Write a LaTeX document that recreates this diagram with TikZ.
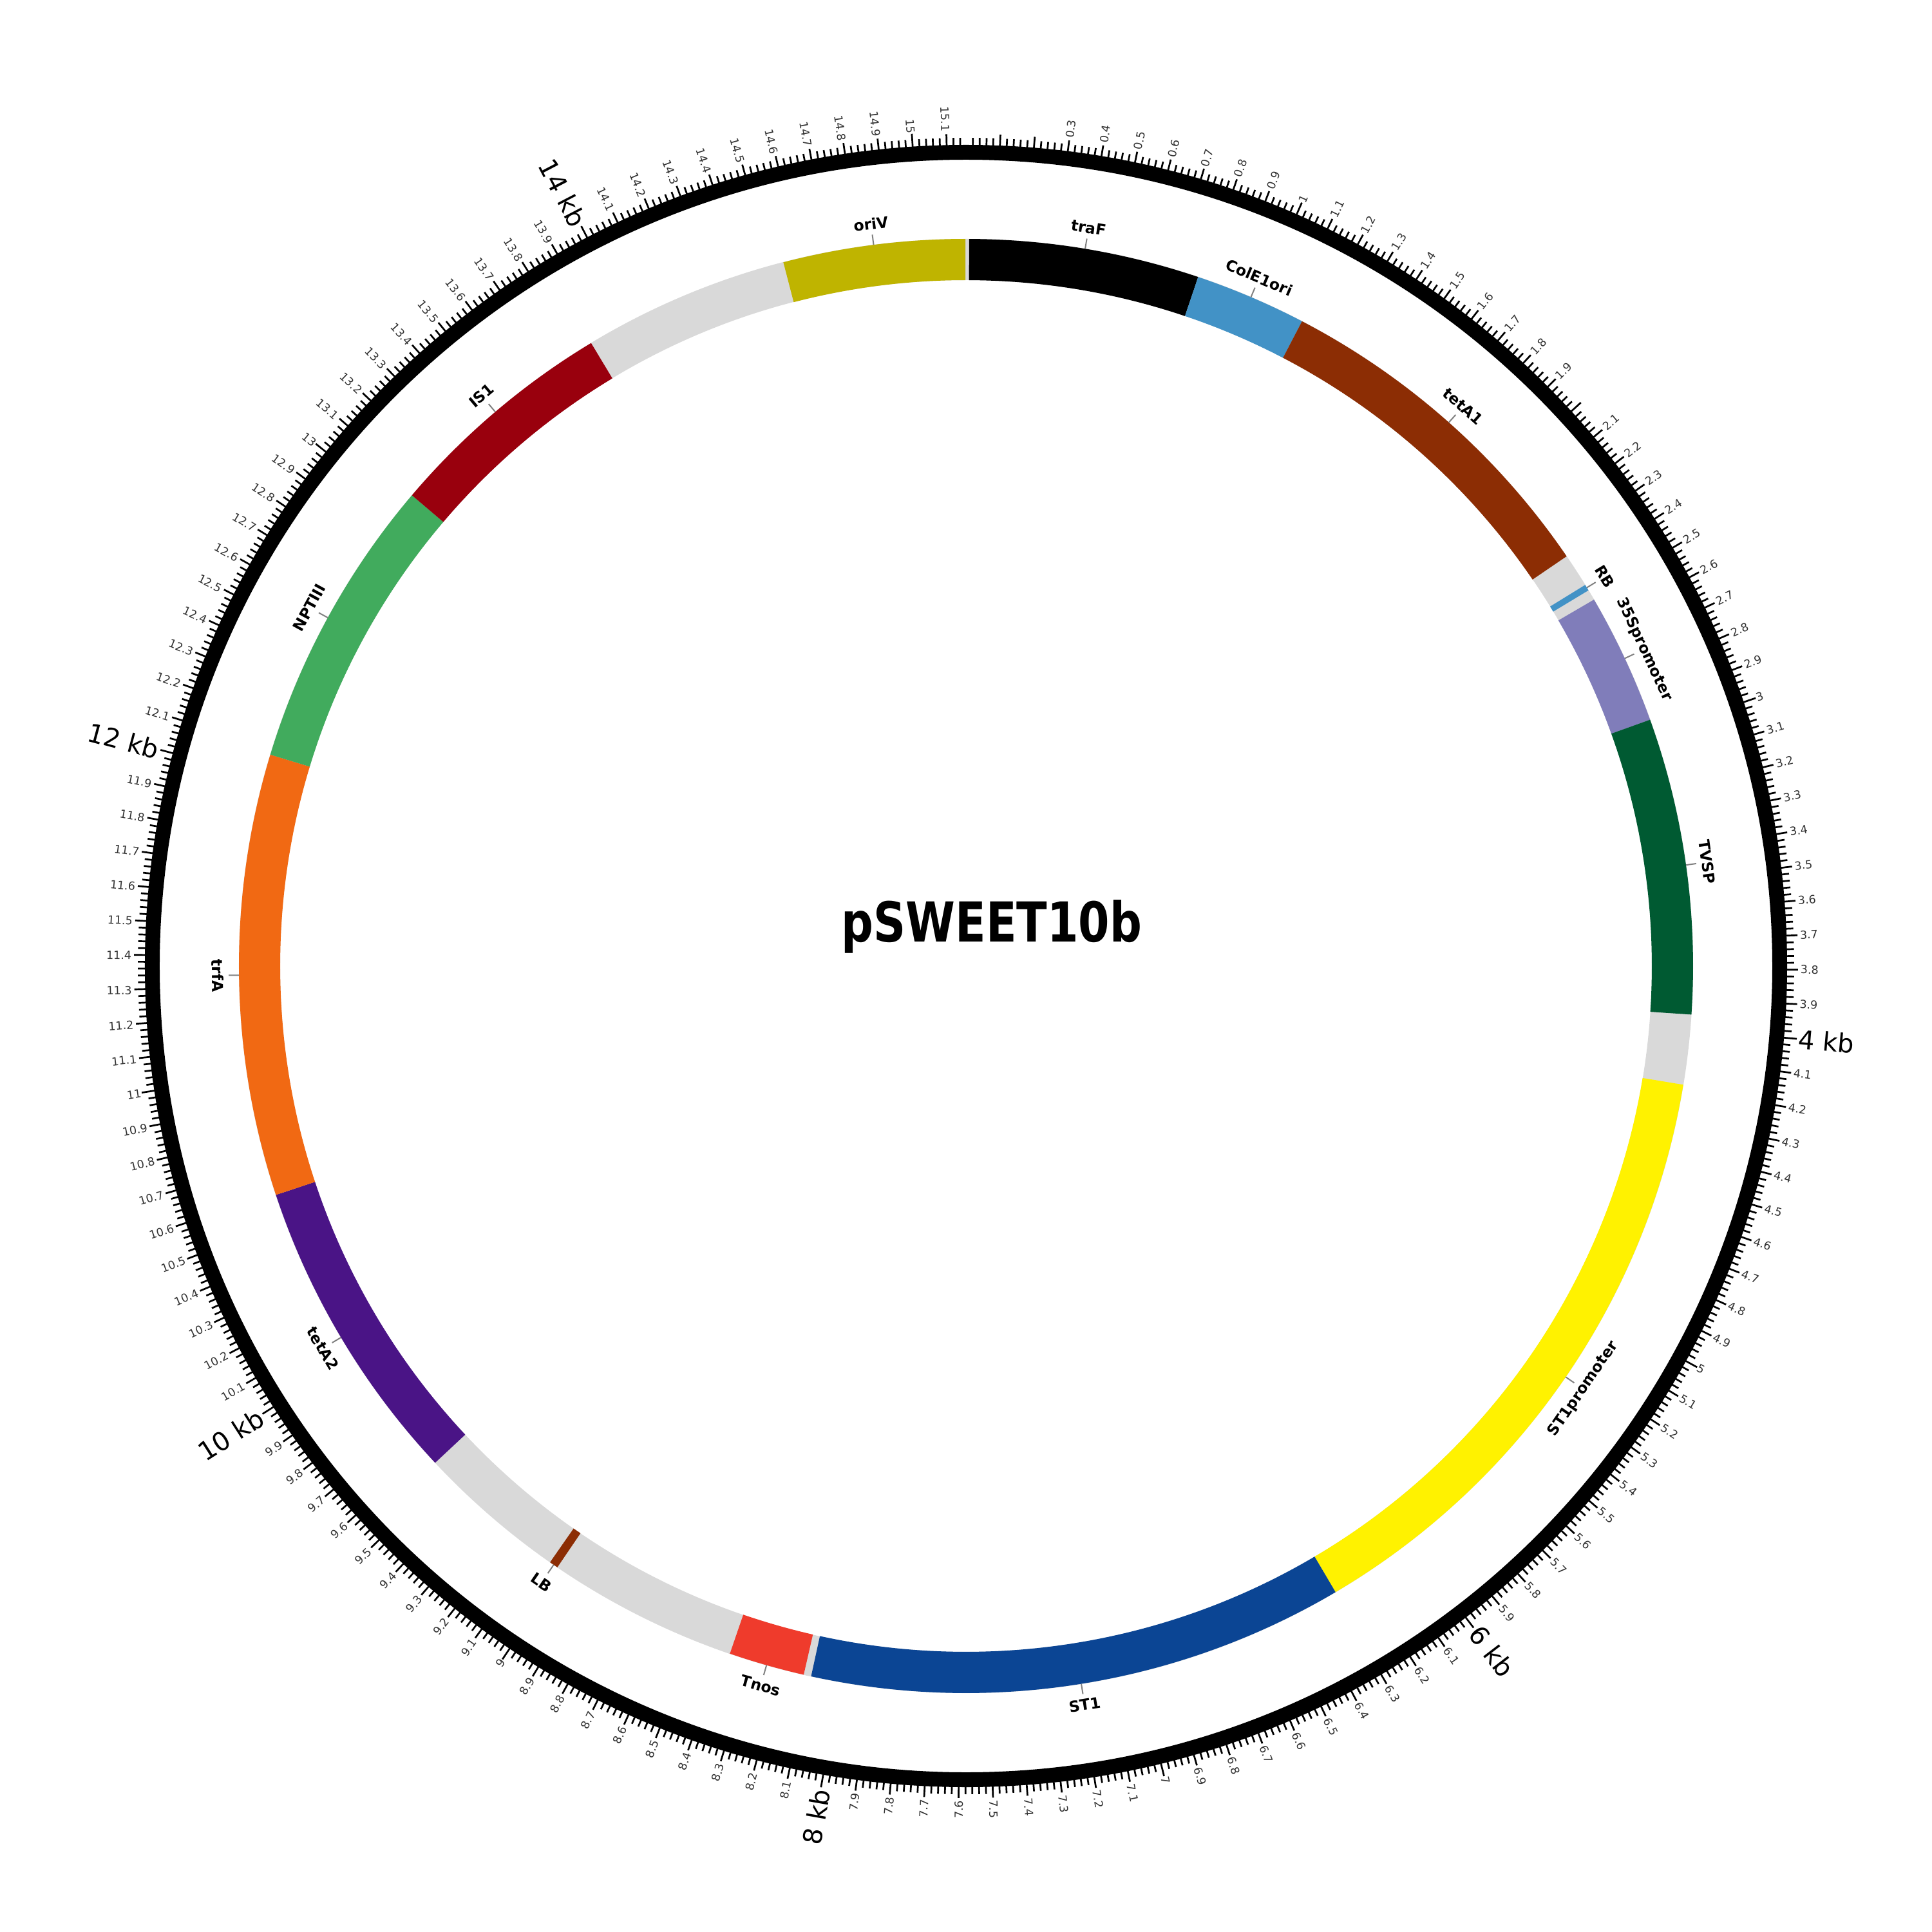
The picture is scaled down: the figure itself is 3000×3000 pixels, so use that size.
\documentclass[tikz,border=0pt]{standalone}
\usepackage{fontspec}
\setmainfont{DejaVu Sans}
\IfFontExistsTF{DejaVu Sans Light}{\newfontfamily\kbfont{DejaVu Sans Light}}{\newfontfamily\kbfont{DejaVu Sans}}
\definecolor{cgap}{HTML}{D9D9D9}
\definecolor{cblue}{HTML}{4292C6}
\definecolor{cbrown}{HTML}{8C2D04}
\definecolor{cpurple}{HTML}{807DBA}
\definecolor{cdgreen}{HTML}{005A32}
\definecolor{cyellow}{HTML}{FFF200}
\definecolor{cnavy}{HTML}{0B4594}
\definecolor{cred}{HTML}{EF3B2C}
\definecolor{cviolet}{HTML}{4A1486}
\definecolor{corange}{HTML}{F16913}
\definecolor{cgreen}{HTML}{41AB5D}
\definecolor{cdred}{HTML}{99000D}
\definecolor{colive}{HTML}{BFB400}
\definecolor{ctext}{HTML}{333333}
\newcommand\plen{15.16}
\tikzset{
  tickl/.style={line width=0.54pt, black},
  ltick/.style={line width=0.4pt, gray},
  flabel/.style={inner sep=0pt, font=\bfseries\fontsize{4.7}{5}\selectfont, text=black},
  tlabel/.style={inner sep=0pt, font=\fontsize{3.5}{4}\selectfont, text=ctext},
  kblabel/.style={inner sep=0pt, font=\kbfont\fontsize{8}{9}\selectfont, text=black},
}
% #1 start (deg clockwise from top), #2 end, #3 colour, #4 name, #5 label
\newcommand\feat[5]{%
  \pgfmathsetmacro\fa{90-#1}%
  \pgfmathsetmacro\fb{90-#2}%
  \fill[#3] (\fa:1129) arc[start angle=\fa,end angle=\fb,radius=1129] -- (\fb:1065) arc[start angle=\fb,end angle=\fa,radius=1065] -- cycle;
  \pgfmathsetmacro\fc{(#1+#2)/2}%
  \pgfmathsetmacro\fm{90-\fc}%
  \pgfmathsetmacro\fr{(\fc>90 && \fc<270) ? 180-\fc : -\fc}%
  \coordinate (#4-e) at (\fm:1129);
  \coordinate (#4-t) at (\fm:1145);
  \node[flabel, rotate=\fr] (#4) at (\fm:1162) {#5};
  \draw[ltick] (#4-e) -- (#4-t);
}
\begin{document}
\begin{tikzpicture}[x=0.2pt,y=0.2pt]
\useasboundingbox[fill=white] (-1500,-1500) rectangle (1500,1500);
% outer scale ring
\fill[black, even odd rule] (0,0) circle (1275) (0,0) circle (1252);
\foreach \m in {1,...,757}{
  \pgfmathsetmacro\ta{90-\m*0.02/\plen*360}
  \pgfmathtruncatemacro\mf{mod(\m,5)}
  \pgfmathtruncatemacro\mk{mod(\m,50)}
  \ifnum\mk=0 \def\tl{20}\else\ifnum\mf=0 \def\tl{17}\else\def\tl{11}\fi\fi
  \pgfmathsetmacro\tr{1275+\tl}
  \draw[tickl] (\ta:1272) -- (\ta:\tr);
}
\foreach \k in {3,...,151}{
  \pgfmathsetmacro\ta{90-\k*0.1/\plen*360}
  \pgfmathtruncatemacro\ip{\k/10}
  \pgfmathtruncatemacro\dp{mod(\k,10)}
  \pgfmathtruncatemacro\dd{mod(\k,20)}
  \ifnum\k<76 \def\anc{west}\pgfmathsetmacro\rr{\ta}\else\def\anc{east}\pgfmathsetmacro\rr{\ta+180}\fi
  \ifnum\dd=0
    \ifnum\k=20 \else
      \node[kblabel, anchor=\anc, rotate=\rr] (kb\k) at (\ta:1297) {\ip\ kb};
    \fi
  \else
    \ifnum\dp=0 \edef\txt{\ip}\else\edef\txt{\ip.\dp}\fi
    \node[tlabel, anchor=\anc, rotate=\rr] (t\k) at (\ta:1295) {\txt};
  \fi
}
% feature ring
\fill[cgap, even odd rule] (0,0) circle (1129) (0,0) circle (1065);
\feat{0.25}{18.62}{black}{traF}{traF}
\feat{18.62}{27.53}{cblue}{ColE}{ColE1ori}
\feat{27.53}{55.7}{cbrown}{tetAa}{tetA1}
\feat{58.39}{58.89}{cblue}{RB}{RB}
\feat{59.74}{70.2}{cpurple}{prom}{35Spromoter}
\feat{70.2}{93.83}{cdgreen}{TVSP}{TVSP}
\feat{99.4}{149.45}{cyellow}{STp}{ST1promoter}
\feat{149.45}{192.3}{cnavy}{ST}{ST1}
\feat{192.9}{198.95}{cred}{Tnos}{Tnos}
\feat{214.2}{214.9}{cbrown}{LB}{LB}
\feat{226.9}{251.65}{cviolet}{tetAb}{tetA2}
\feat{251.65}{286.9}{corange}{trfA}{trfA}
\feat{286.9}{310.35}{cgreen}{NPT}{NPTIII}
\feat{310.35}{328.96}{cdred}{IS}{IS1}
\feat{345.45}{359.95}{colive}{oriV}{oriV}
% title
\node[anchor=base, inner sep=0pt, font=\bfseries\fontsize{17.1}{20}\selectfont] (title) at (40,38) {\scalebox{0.815}[1]{pSWEET10b}};
\end{tikzpicture}
\end{document}
